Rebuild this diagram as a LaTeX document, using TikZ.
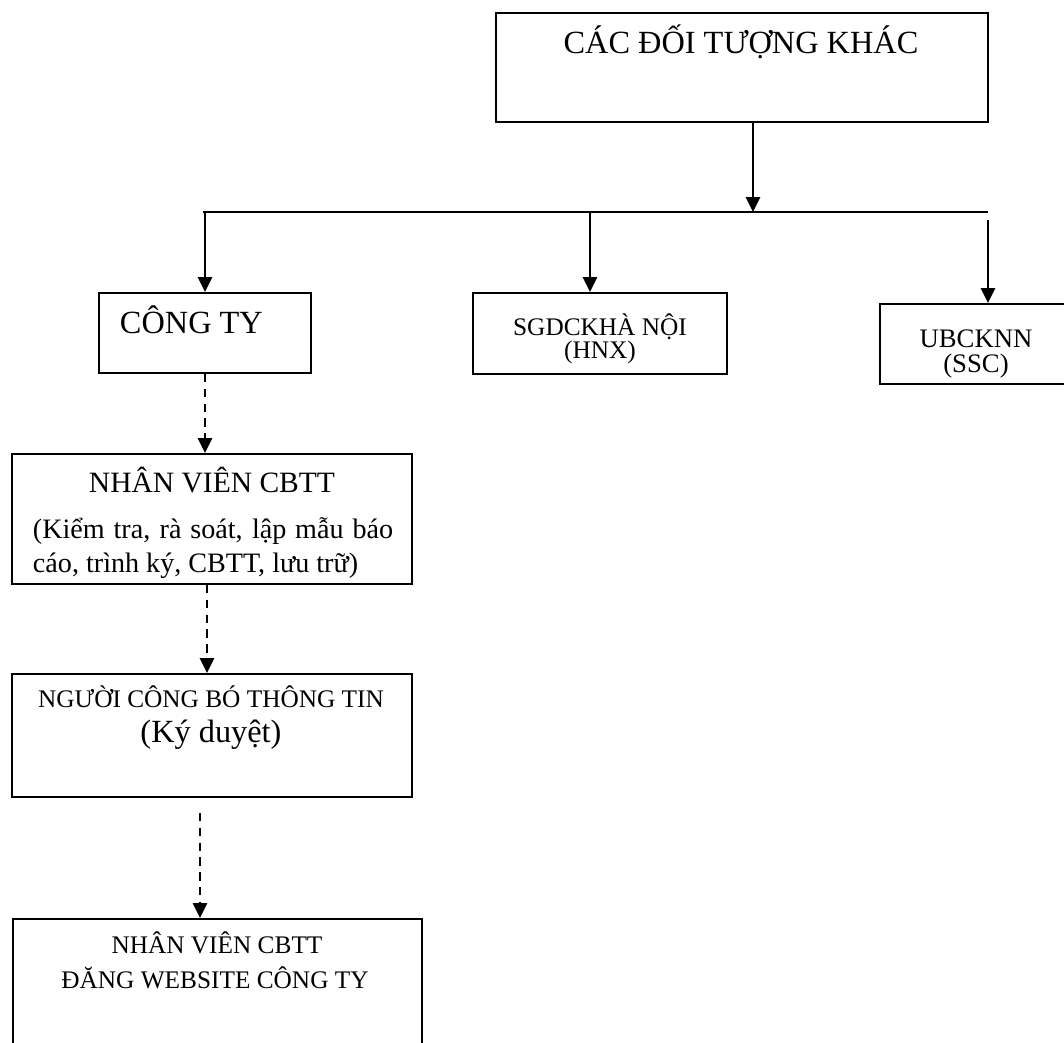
\documentclass[tikz,border=0pt]{standalone}
\usepackage{fontspec}
\setmainfont{Liberation Serif}
\usepackage{tikz}
\usetikzlibrary{arrows.meta}

\newcommand{\fsbig}{\fontsize{23}{27}\selectfont}
\newcommand{\fsmid}{\fontsize{21}{25}\selectfont}
\newcommand{\fspar}{\fontsize{20}{24}\selectfont}
\newcommand{\fsubc}{\fontsize{19}{22}\selectfont}
\newcommand{\fssml}{\fontsize{18}{21}\selectfont}

\begin{document}
\begin{tikzpicture}[x=0.025cm, y=-0.025cm, line width=1.4pt,
    >={Triangle[length=10.5pt,width=10pt]},
    box/.style={shape=rectangle, draw=black, line width=1.4pt, inner sep=0pt},
    txt/.style={inner sep=0pt, anchor=base},
    flowdash/.style={dash pattern=on 6pt off 4.5pt}]
        \useasboundingbox (0,0) rectangle (1064,1043);

        % boxes
        \node[box, minimum width=12.3cm, minimum height=2.725cm] (khac) at (742,67.5) {};
        \node[box, minimum width=5.275cm, minimum height=2cm] (congty) at (205,333) {};
        \node[box, minimum width=6.35cm, minimum height=2.025cm] (hnx) at (600,333.5) {};
        \node[box, minimum width=4.8cm, minimum height=2cm] (ssc) at (976,344) {};
        \node[box, minimum width=10cm, minimum height=3.25cm] (nvcbtt) at (212,519) {};
        \node[box, minimum width=10cm, minimum height=3.075cm] (nguoi) at (212,735.5) {};
        \node[box, minimum width=10.225cm, minimum height=3.775cm] (web) at (217.5,994.5) {};

        % texts
        \node[txt] (khacT) at (741,54) {\fsbig CÁC ĐỐI TƯỢNG KHÁC};
        \node[txt, anchor=base west] (congtyT) at (119,333) {\fsbig CÔNG TY};
        \node[txt] (hnxT) at (600,335) {\fssml SGDCKHÀ NỘI};
        \node[txt] (hnxS) at (600,358) {\fssml (HNX)};
        \node[txt] (sscT) at (976,348) {\fsubc UBCKNN};
        \node[txt] (sscS) at (976,373) {\fsubc (SSC)};
        \node[txt] (nvcbttT) at (212,492) {\fsmid NHÂN VIÊN CBTT};
        \node[txt, anchor=base west] (nvcbttA) at (32,538) {\fspar\makebox[9cm][s]{(Kiểm tra, rà soát, lập mẫu báo}};
        \node[txt, anchor=base west] (nvcbttB) at (32,572) {\fspar cáo, trình ký, CBTT, lưu trữ)};
        \node[txt] (nguoiT) at (211,707) {\fssml NGƯỜI CÔNG BÓ THÔNG TIN};
        \node[txt] (nguoiS) at (211,742) {\fsbig (Ký duyệt)};
        \node[txt] (webT) at (217,953) {\fssml NHÂN VIÊN CBTT};
        \node[txt] (webS) at (215,988) {\fssml ĐĂNG WEBSITE CÔNG TY};

        % distribution line
        \coordinate (busL) at (203,212);
        \coordinate (busM) at (753,212);
        \coordinate (busR) at (988,212);
        \path [-] (busL) edge node {} (busR);
        \path [->] (khac.south -| busM) edge node {} (busM);
        \path [->] (congty.north |- busL) edge node {} (congty.north);
        \path [->] ([xshift=-0.25cm]hnx.north |- busL) edge node {} ([xshift=-0.25cm]hnx.north);
        \path [->] ([yshift=-0.2cm]busR) edge node {} (busR |- ssc.north);

        % internal flow
        \path [->, flowdash] (congty.south) edge node {} (congty.south |- nvcbtt.north);
        \path [->, flowdash] ([xshift=-0.125cm]nvcbtt.south) edge node {} ([xshift=-0.125cm]nguoi.north);
        \path [->, flowdash] ([xshift=-0.3cm,yshift=-0.375cm]nguoi.south) edge node {} ([xshift=-0.3cm]nguoi.south |- web.north);
    \end{tikzpicture}
\end{document}
